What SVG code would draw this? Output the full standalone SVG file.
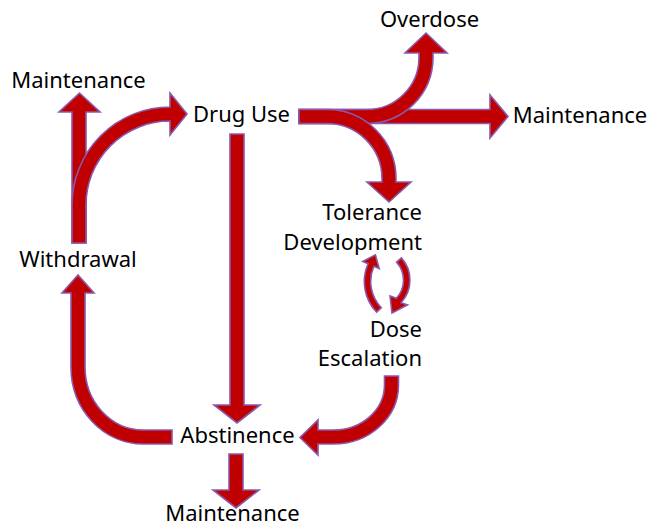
<svg xmlns="http://www.w3.org/2000/svg" width="651" height="527" viewBox="0 0 651 527">
<style>
.a{fill:#C00000;stroke:#8A58AC;stroke-width:1.6;stroke-linejoin:miter}
.t{font-family:"Noto Sans","Liberation Sans",sans-serif;font-size:22px;fill:#000}
.e{text-anchor:end}
.m{text-anchor:middle}
</style>
<rect width="651" height="527" fill="#fff"/>
<g id="connectors">
<path id="drug-abstinence" class="a" d="M230,134 H244 V405 H260 L237,423 L214,405 H230 Z"/>
<path id="abstinence-maintenance" class="a" d="M229,454 H243 V490 H259 L236,508 L213,490 H229 Z"/>
<path id="withdrawal-maintenance" class="a" d="M72,243 V112 H59 L79.5,93 L100,112 H86 V243 Z"/>
<path id="withdrawal-drug" class="a" d="M72,243 V205 A98,98 0 0 1 170,107 V93 L187,114 L170,135 V121 A84,84 0 0 0 86,205 V243 Z"/>
<path id="abstinence-withdrawal" class="a" d="M172,444 H143 A72,77 0 0 1 71,367 V293 H62 L78,275 L94,293 H85 V367 A58,63 0 0 0 143,430 H172 Z"/>
<path id="dose-abstinence" class="a" d="M398.5,376 V385 A65,59 0 0 1 333.5,444 H318 V455 L300,437.5 L318,420 V430 H333.5 A51,45 0 0 0 384.5,385 V376 Z"/>
<path id="drug-maintenance" class="a" d="M299,109.5 H490 V95 L508,116.5 L490,138 V123.5 H299 Z"/>
<path id="drug-overdose" class="a" d="M299,109.5 H367 A52,52 0 0 0 419,57.5 V53 H405 L426,33 L447,53 H433 V57.5 A66,66 0 0 1 367,123.5 H299 Z"/>
<path id="drug-tolerance" class="a" d="M299,109.5 H327 A69,69 0 0 1 396,178.5 V182 H411 L389,202 L367,182 H382 V178.5 A55,55 0 0 0 327,123.5 H299 Z"/>
<path id="dose-tolerance" class="a" d="M376.7,312.2 A44.2,44.2 0 0 1 368.1,263.7 L362.8,261.4 L375.4,254.9 L379.2,268.6 L373.9,266.3 A37.8,37.8 0 0 0 381.3,307.8 Z"/>
<path id="tolerance-dose" class="a" d="M396.6,262.1 L401.4,257.9 A33.2,33.2 0 0 1 401.05,302.7 L407.5,305 L392,313 L390,296 L396.4,298.3 A26.8,26.8 0 0 0 396.6,262.1 Z"/>
</g>
<g id="maintenance-top"><text class="t m" x="78.5" y="88">Maintenance</text></g>
<g id="drug-use"><text class="t m" x="241.5" y="122">Drug Use</text></g>
<g id="overdose"><text class="t m" x="429.5" y="27">Overdose</text></g>
<g id="maintenance-right"><text class="t m" x="580" y="123">Maintenance</text></g>
<g id="tolerance-development"><text class="t e" x="422" y="220">Tolerance</text><text class="t e" x="422" y="249.5">Development</text></g>
<g id="dose-escalation"><text class="t e" x="422" y="337">Dose</text><text class="t e" x="422" y="365.5">Escalation</text></g>
<g id="withdrawal"><text class="t m" x="78" y="267">Withdrawal</text></g>
<g id="abstinence"><text class="t m" x="237.5" y="443">Abstinence</text></g>
<g id="maintenance-bottom"><text class="t m" x="232.5" y="521">Maintenance</text></g>
</svg>
